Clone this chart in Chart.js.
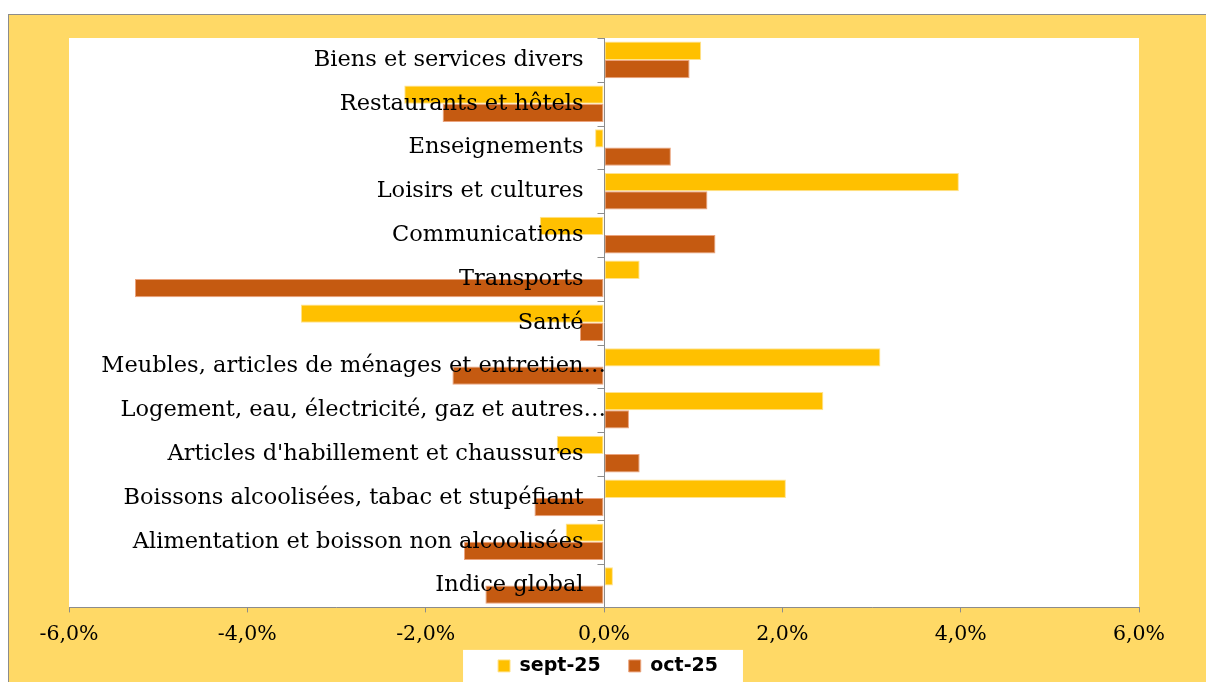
<!DOCTYPE html>
<html lang="fr">
<head>
<meta charset="utf-8">
<title>Variation des prix par fonction</title>
<script src="https://cdn.jsdelivr.net/npm/chart.js@4.4.1/dist/chart.umd.min.js"></script>
<style>
  html, body { margin: 0; padding: 0; background: #fff; overflow: hidden; }
  #frame {
    position: absolute; left: 8px; top: 14px;
    width: 1197px; height: 700px;
    background: #FFD966;
    border-top: 1px solid #8c8c8c;
    border-left: 1px solid #8c8c8c;
  }
  #chart { display: block; }
</style>
</head>
<body>
<div id="frame">
  <canvas id="chart" width="1197" height="700"></canvas>
</div>
<script>
// categories, top to bottom
const categories = [
  "Biens et services divers",
  "Restaurants et hôtels",
  "Enseignements",
  "Loisirs et cultures",
  "Communications",
  "Transports",
  "Santé",
  "Meubles, articles de ménages et entretien…",
  "Logement, eau, électricité, gaz et autres…",
  "Articles d'habillement et chaussures",
  "Boissons alcoolisées, tabac et stupéfiant",
  "Alimentation et boisson non alcoolisées",
  "Indice global"
];

const seriesNames = ["sept-25", "oct-25"];

// variations in %
const sept25 = [1.09, -2.24, -0.10, 3.98, -0.72, 0.40, -3.40, 3.10, 2.46, -0.53, 2.04, -0.43, 0.10];
const oct25 = [0.96, -1.81, 0.75, 1.16, 1.25, -5.26, -0.27, -1.70, 0.28, 0.40, -0.78, -1.57, -1.33];

const xTicks = [-6, -4, -2, 0, 2, 4, 6];

const Colors = {
  sept: '#FFC000',
  septEdge: '#FFE38F',
  oct: '#C55A11',
  octEdge: '#EBA47E',
  axis: '#8c8c8c',
  text: '#000000'
};

const formatPct = v => v.toFixed(1).replace('.', ',') + '%';

// white plot area, legend panel, zero axis and the category labels
const decorPlugin = {
  id: 'decor',
  afterLayout(chart) {
    const lg = chart.legend;
    lg.top = chart.chartArea.bottom + 21;
    lg.bottom = lg.top + lg.height;
    lg.left += 4;
    lg.right += 4;
  },
  beforeDraw(chart) {
    const { ctx, chartArea } = chart;
    ctx.save();
    ctx.fillStyle = '#ffffff';
    ctx.fillRect(chartArea.left, chartArea.top, chartArea.right - chartArea.left, chartArea.bottom - chartArea.top);

    const boxes = chart.legend.legendHitBoxes;
    if (boxes && boxes.length) {
      const first = boxes[0];
      const last = boxes[boxes.length - 1];
      const mid = first.top + first.height / 2;
      const left = first.left - 35;
      const right = last.left + last.width + 25;
      ctx.fillRect(left, mid - 16, right - left, chart.height - (mid - 16));
    }
    ctx.restore();
  },
  afterDatasetsDraw(chart) {
    const { ctx } = chart;
    const x = chart.scales.x;
    const y = chart.scales.y;
    const zero = Math.round(x.getPixelForValue(0)) + 0.5;
    const step = y.getPixelForValue(1) - y.getPixelForValue(0);

    ctx.save();
    ctx.strokeStyle = Colors.axis;
    ctx.lineWidth = 1;
    ctx.beginPath();
    ctx.moveTo(zero, chart.chartArea.top);
    ctx.lineTo(zero, chart.chartArea.bottom);
    for (let i = 0; i <= categories.length; i++) {
      const py = Math.round(y.getPixelForValue(i) - step / 2) + 0.5;
      ctx.moveTo(zero - 7, py);
      ctx.lineTo(zero, py);
    }
    ctx.stroke();

    ctx.font = '22.5px "DejaVu Serif"';
    ctx.fillStyle = Colors.text;
    ctx.textAlign = 'right';
    ctx.textBaseline = 'middle';
    const ellipsis = ctx.measureText('…').width;
    categories.forEach((label, i) => {
      let tx = zero - 21;
      if (label.endsWith('…')) tx += ellipsis;
      ctx.fillText(label, tx, y.getPixelForValue(i));
    });
    ctx.restore();
  }
};

const config = {
  type: 'bar',
  data: {
    labels: categories,
    datasets: [
      {
        label: seriesNames[0],
        data: sept25,
        backgroundColor: Colors.sept,
        borderColor: Colors.septEdge,
        borderWidth: 1,
        borderSkipped: false
      },
      {
        label: seriesNames[1],
        data: oct25,
        backgroundColor: Colors.oct,
        borderColor: Colors.octEdge,
        borderWidth: 1,
        borderSkipped: false
      }
    ]
  },
  options: {
    indexAxis: 'y',
    responsive: false,
    animation: false,
    categoryPercentage: 0.835,
    barPercentage: 1.0,
    layout: {
      padding: { left: 60, right: 67, top: 23, bottom: 1 }
    },
    scales: {
      x: {
        min: -6,
        max: 6,
        afterBuildTicks(scale) {
          scale.ticks = xTicks.map(v => ({ value: v }));
        },
        ticks: {
          padding: 10,
          color: Colors.text,
          font: { family: 'DejaVu Serif', size: 20.5 },
          callback: v => formatPct(v),
          maxRotation: 0
        },
        grid: {
          drawOnChartArea: false,
          drawTicks: true,
          tickLength: 5,
          color: Colors.axis
        },
        border: { color: Colors.axis }
      },
      y: {
        display: false
      }
    },
    plugins: {
      legend: {
        position: 'bottom',
        labels: {
          boxWidth: 12,
          boxHeight: 12,
          padding: 28,
          color: Colors.text,
          font: { family: 'DejaVu Sans', size: 19, weight: 'bold' }
        }
      },
      tooltip: { enabled: false }
    }
  },
  plugins: [decorPlugin]
};

new Chart(document.getElementById('chart'), config);
</script>
</body>
</html>
